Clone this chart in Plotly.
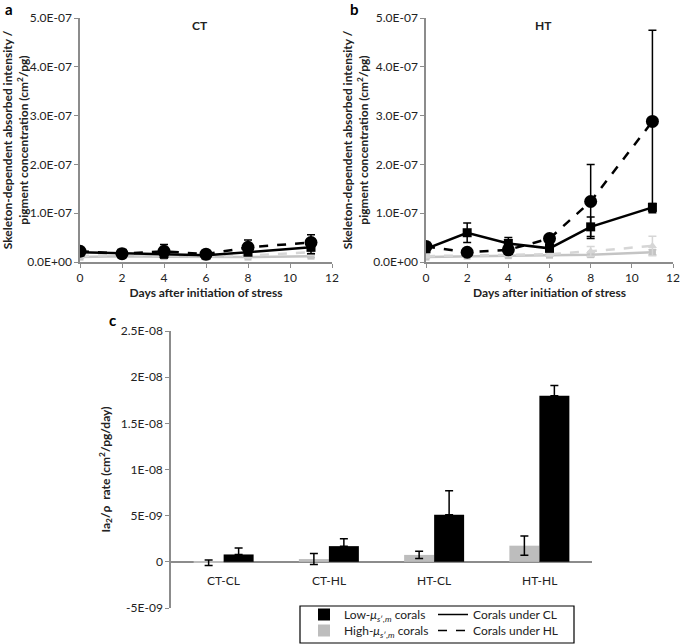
import plotly.graph_objects as go

W, H = 685, 644

days = [0, 2, 4, 6, 8, 11]

# Panel a (CT)
a_low_hl = [2.2e-08, 1.7e-08, 2.2e-08, 1.6e-08, 3.0e-08, 4.0e-08]
a_low_hl_err = [0.3e-08, 0.3e-08, 1.4e-08, 0.3e-08, 1.5e-08, 1.6e-08]
a_low_cl = [2.0e-08, 1.8e-08, 1.7e-08, 1.4e-08, 2.0e-08, 3.0e-08]
a_low_cl_err = [0.3e-08, 0.3e-08, 0.8e-08, 0.3e-08, 0.5e-08, 1.3e-08]
a_high_hl = [1.2e-08, 1.5e-08, 1.3e-08, 1.2e-08, 1.3e-08, 2.0e-08]
a_high_hl_err = [0.3e-08, 0.3e-08, 0.3e-08, 0.3e-08, 0.5e-08, 0.6e-08]
a_high_cl = [1.0e-08, 1.2e-08, 1.1e-08, 1.0e-08, 1.0e-08, 1.2e-08]
a_high_cl_err = [0.2e-08, 0.2e-08, 0.2e-08, 0.2e-08, 0.2e-08, 0.3e-08]

# Panel b (HT)
b_low_hl = [3.2e-08, 2.0e-08, 2.5e-08, 4.8e-08, 12.4e-08, 28.8e-08]
b_low_hl_err = [0.5e-08, 0.3e-08, 0.8e-08, 0.5e-08, 7.6e-08, 18.7e-08]
b_low_cl = [2.7e-08, 6.0e-08, 3.8e-08, 2.8e-08, 7.2e-08, 11.2e-08]
b_low_cl_err = [0.5e-08, 2.0e-08, 1.2e-08, 0.5e-08, 2.0e-08, 0.8e-08]
b_high_hl = [1.2e-08, 1.3e-08, 1.5e-08, 1.6e-08, 2.2e-08, 3.3e-08]
b_high_hl_err = [0.3e-08, 0.3e-08, 0.3e-08, 0.3e-08, 1.0e-08, 2.0e-08]
b_high_cl = [1.0e-08, 1.2e-08, 1.3e-08, 1.4e-08, 1.5e-08, 2.0e-08]
b_high_cl_err = [0.2e-08, 0.2e-08, 0.2e-08, 0.2e-08, 0.4e-08, 0.5e-08]

# Panel c
groups = ["CT-CL", "CT-HL", "HT-CL", "HT-HL"]
c_high = [-1.0e-10, 3.0e-10, 7.5e-10, 1.75e-09]
c_high_err = [3.0e-10, 6.0e-10, 4.0e-10, 1.05e-09]
c_low = [8.0e-10, 1.7e-09, 5.1e-09, 1.8e-08]
c_low_err = [7.0e-10, 8.0e-10, 2.6e-09, 1.1e-09]

ab_ticks = [0, 1e-07, 2e-07, 3e-07, 4e-07, 5e-07]
ab_ticktext = ["0.0E+00", "1.0E-07", "2.0E-07", "3.0E-07", "4.0E-07", "5.0E-07"]
c_ticks = [-5e-09, 0, 5e-09, 1e-08, 1.5e-08, 2e-08, 2.5e-08]
c_ticktext = ["-5E-09", "0", "5E-09", "1E-08", "1.5E-08", "2E-08", "2.5E-08"]

BLACK = "#000000"
GREY = "#c4c4c4"
LGREY = "#d6d6d6"
BARGREY = "#bdbdbd"
AXC = "#8c8c8c"
TXT = "#222222"
FONT = "Lato"

fig = go.Figure()


def add_line(y, err, xa, ya, color, dash, symbol, size, width=2.5):
    fig.add_trace(go.Scatter(
        x=days, y=y, xaxis=xa, yaxis=ya, mode="lines+markers",
        line=dict(color=color, width=width, dash=dash),
        marker=dict(symbol=symbol, size=size, color=color),
        error_y=dict(type="data", array=err, color=color, thickness=1.5, width=4),
        showlegend=False, hoverinfo="skip"))


for (xa, ya, hcl, hcle, hhl, hhle, lcl, lcle, lhl, lhle) in [
        ("x", "y", a_high_cl, a_high_cl_err, a_high_hl, a_high_hl_err,
         a_low_cl, a_low_cl_err, a_low_hl, a_low_hl_err),
        ("x2", "y2", b_high_cl, b_high_cl_err, b_high_hl, b_high_hl_err,
         b_low_cl, b_low_cl_err, b_low_hl, b_low_hl_err)]:
    add_line(hcl, hcle, xa, ya, GREY, "solid", "square", 7, 2.5)
    add_line(hhl, hhle, xa, ya, LGREY, "dash", "triangle-up", 8, 2.5)
    add_line(lcl, lcle, xa, ya, BLACK, "solid", "square", 9, 2.5)
    add_line(lhl, lhle, xa, ya, BLACK, "dash", "circle", 13, 2.5)

# Panel c bars
fig.add_trace(go.Bar(
    x=groups, y=c_high, xaxis="x3", yaxis="y3", marker=dict(color=BARGREY, line=dict(width=0)),
    error_y=dict(type="data", array=c_high_err, color=BLACK, thickness=1.5, width=4),
    name="High-<i>μ</i><sub><i>s</i>′<i>,m</i></sub> corals", legend="legend2", legendrank=1,
    hoverinfo="skip"))
fig.add_trace(go.Bar(
    x=groups, y=c_low, xaxis="x3", yaxis="y3", marker=dict(color=BLACK, line=dict(width=0)),
    error_y=dict(type="data", symmetric=False, array=c_low_err, arrayminus=[0] * len(c_low),
                 color=BLACK, thickness=1.5, width=4),
    name="Low-<i>μ</i><sub><i>s</i>′<i>,m</i></sub> corals", legend="legend", legendrank=1,
    hoverinfo="skip"))
fig.add_trace(go.Scatter(x=[None], y=[None], xaxis="x3", yaxis="y3", mode="lines",
                         line=dict(color=BLACK, width=1.5, dash="solid"),
                         name="Corals under CL", legend="legend", legendrank=2))
fig.add_trace(go.Scatter(x=[None], y=[None], xaxis="x3", yaxis="y3", mode="lines",
                         line=dict(color=BLACK, width=1.5, dash="dash"),
                         name="Corals under HL", legend="legend2", legendrank=2))

# category labels for panel c drawn along the zero line
for g in groups:
    fig.add_annotation(x=g, y=0, xref="x3", yref="y3", text=g, showarrow=False,
                       yanchor="top", yshift=-9, font=dict(size=12, color=TXT, family=FONT))


def px_x(p):
    return p / W


def px_y(p):
    return 1 - p / H


common_x = dict(range=[0, 12], tickvals=[0, 2, 4, 6, 8, 10, 12], showline=True, linecolor=AXC,
                linewidth=1.5, ticks="outside", ticklen=4, tickcolor=AXC, showgrid=False,
                zeroline=False, automargin=False, tickfont=dict(size=12, color=TXT, family=FONT),
                title=dict(text="<b>Days after initiation of stress</b>", standoff=1,
                           font=dict(size=12, color=TXT, family=FONT)))
common_y = dict(range=[0, 5e-07], tickvals=ab_ticks, ticktext=ab_ticktext, showline=True,
                linecolor=AXC, linewidth=1.5, ticks="outside", ticklen=4, tickcolor=AXC,
                showgrid=False, zeroline=False, automargin=False,
                tickfont=dict(size=12, color=TXT, family=FONT),
                title=dict(text="<b>Skeleton-dependent absorbed intensity /<br>pigment concentration (cm<sup>2</sup>/pg)</b>",
                           standoff=2, font=dict(size=12, color=TXT, family=FONT)))

leg_font = dict(size=12, color=TXT, family=FONT)
leg_common = dict(orientation="h", xanchor="left", yanchor="top", borderwidth=0,
                  bgcolor="rgba(0,0,0,0)", font=leg_font, itemwidth=30,
                  entrywidth=84, entrywidthmode="pixels", tracegroupgap=0)
fig.update_layout(
    width=W, height=H, margin=dict(l=0, r=0, t=0, b=0, autoexpand=False),
    paper_bgcolor="white", plot_bgcolor="white",
    font=dict(family=FONT, color=TXT),
    barmode="group", bargap=0.43, bargroupgap=0,
    xaxis=dict(domain=[px_x(80), px_x(332)], anchor="y", **common_x),
    yaxis=dict(domain=[px_y(262), px_y(18)], anchor="x", **common_y),
    xaxis2=dict(domain=[px_x(426), px_x(673)], anchor="y2", **common_x),
    yaxis2=dict(domain=[px_y(262), px_y(18)], anchor="x2", **common_y),
    xaxis3=dict(domain=[px_x(171), px_x(592)], anchor="y3", showline=False, showticklabels=False,
                ticks="", showgrid=False, zeroline=False, automargin=False),
    yaxis3=dict(domain=[px_y(608), px_y(331)], anchor="x3", range=[-5e-09, 2.5e-08],
                tickvals=c_ticks, ticktext=c_ticktext, showline=True, linecolor=AXC,
                linewidth=1.5, ticks="outside", ticklen=4, tickcolor=AXC, showgrid=False,
                zeroline=True, zerolinecolor=AXC, zerolinewidth=1.5, automargin=False,
                tickfont=dict(size=12, color=TXT, family=FONT),
                title=dict(text="<b>Ia<sub>2</sub>/ρ  rate (cm<sup>2</sup>/pg/day)</b>", standoff=8,
                           font=dict(size=12, color=TXT, family=FONT))),
    showlegend=True,
    legend=dict(x=px_x(304), y=px_y(600), **leg_common),
    legend2=dict(x=px_x(304), y=px_y(616), **leg_common),
    shapes=[dict(type="rect", xref="paper", yref="paper", x0=px_x(300), x1=px_x(574),
                 y0=px_y(643), y1=px_y(606), line=dict(color=BLACK, width=1.2))],
)

for txt, x, y in [("a", 9, 9), ("b", 354, 9), ("c", 113, 320)]:
    fig.add_annotation(x=px_x(x), y=px_y(y), xref="paper", yref="paper", text=f"<b>{txt}</b>",
                       showarrow=False, xanchor="center", yanchor="middle",
                       font=dict(size=15, color="#000", family=FONT))
for txt, x in [("CT", 200), ("HT", 543)]:
    fig.add_annotation(x=px_x(x), y=px_y(25), xref="paper", yref="paper", text=f"<b>{txt}</b>",
                       showarrow=False, xanchor="center", yanchor="middle",
                       font=dict(size=12, color=TXT, family=FONT))

fig.write_html("out.html", config={"displayModeBar": False},
               post_script="document.body.style.margin='0';document.body.style.overflow='hidden';")
